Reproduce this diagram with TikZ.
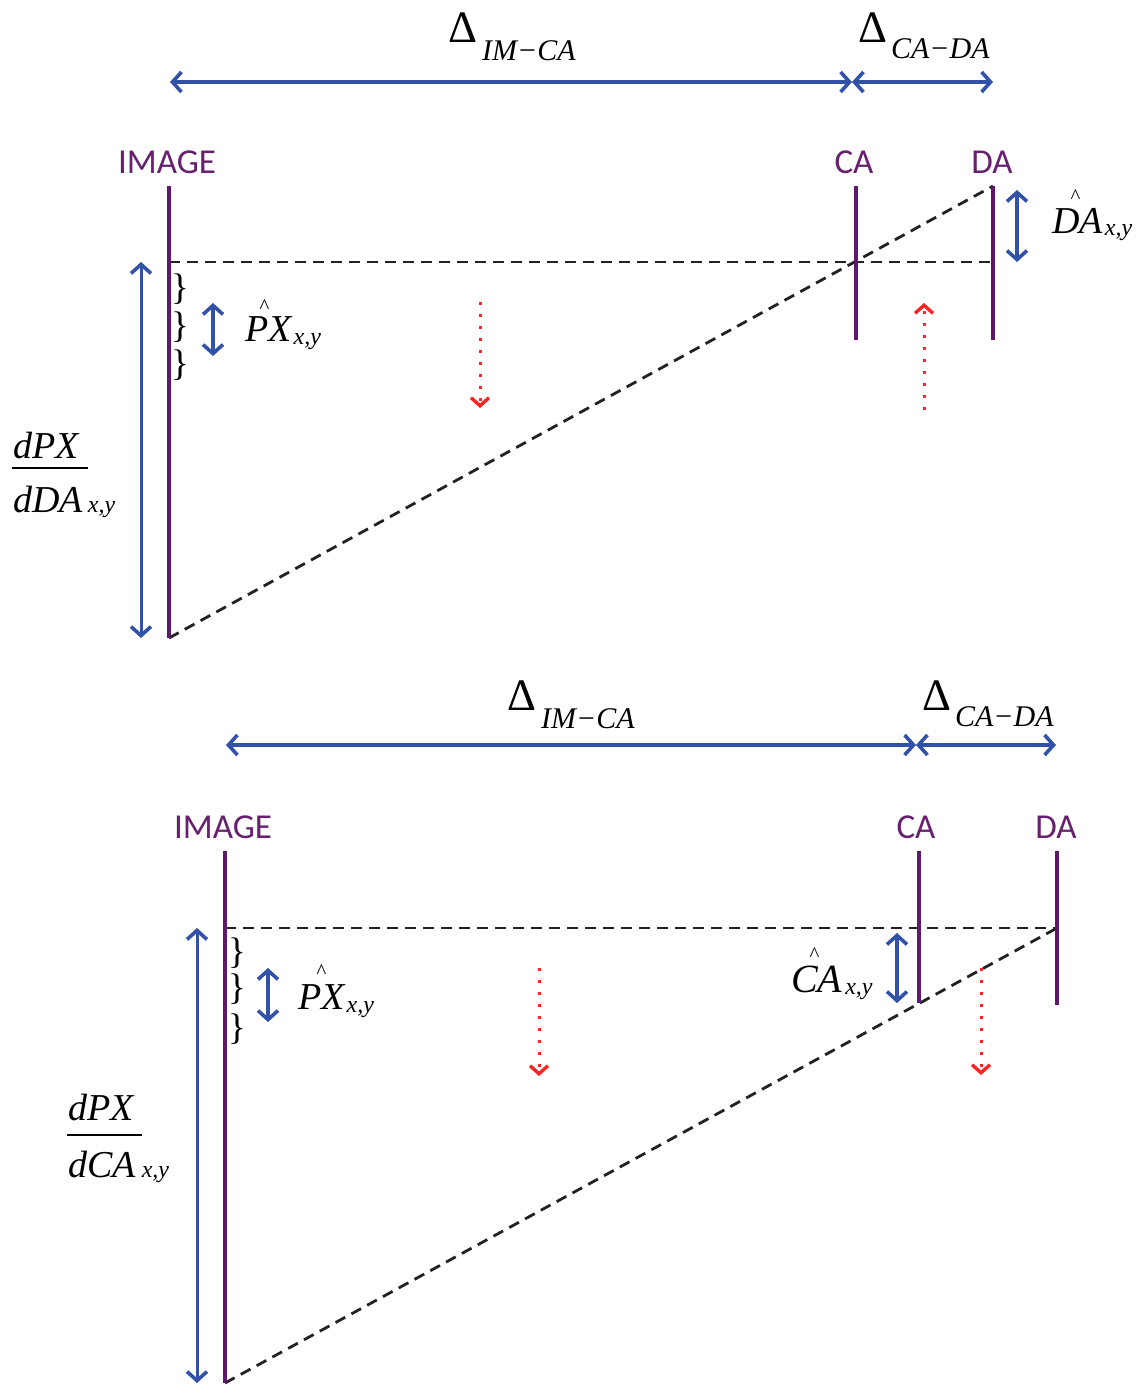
\documentclass[tikz,border=0pt]{standalone}
\usepackage{fontspec}
\setmainfont{Liberation Serif}
\newfontfamily\calib{Carlito}
\usetikzlibrary{arrows.meta}
\definecolor{purp}{HTML}{5E1A6A}
\definecolor{ptext}{HTML}{66206E}
\definecolor{blu}{HTML}{3152A8}
\definecolor{rd}{HTML}{FF2424}
\definecolor{dk}{HTML}{222222}
\newcommand\fs[1]{\fontsize{#1}{#1}\selectfont}
\newcommand\hatat[2]{\rlap{\kern#1\raisebox{#2}{\fs{21}\textasciicircum}}}
\begin{document}
\begin{tikzpicture}[x=1pt,y=-1pt,
  plate/.style={draw=purp, line width=4.5pt},
  guide/.style={draw=dk, line width=2.8pt, dash pattern=on 11pt off 7pt},
  meas/.style={draw=blu, line width=3.3pt, {Straight Barb[length=9pt,width=20pt,line width=3.6pt]}-{Straight Barb[length=9pt,width=20pt,line width=3.6pt]}},
  flow/.style={draw=rd, line width=3pt, dash pattern=on 3pt off 9pt, -{Straight Barb[length=8pt,width=18pt,line width=3.4pt]}},
  lbl/.style={inner sep=0pt, text=ptext, font=\calib\fs{35}, anchor=base},
  tx/.style={inner sep=0pt, anchor=base west},
  brc/.style={inner sep=0pt, anchor=base west, font=\fs{37}},
]
\useasboundingbox (0,0) rectangle (1147,1386);

% ================= TOP =================
\coordinate (imT) at (169,186); \coordinate (imB) at (169,638);
\coordinate (caT) at (856,186); \coordinate (caB) at (856,340);
\coordinate (daT) at (993,186); \coordinate (daB) at (993,340);
\coordinate (hL) at (169,262);  \coordinate (hR) at (993,262);
\coordinate (a1) at (170,82); \coordinate (a2) at (852,82); \coordinate (a3) at (993,82);
\coordinate (b1) at (141,262); \coordinate (b2) at (141,638);
\coordinate (s1) at (213,303); \coordinate (s2) at (213,356);
\coordinate (d1) at (1017,190); \coordinate (d2) at (1017,262);
\coordinate (r1) at (480,302); \coordinate (r2) at (480,408);
\coordinate (r3) at (924,410); \coordinate (r4) at (924,303);

\draw[guide] (hL) -- (hR);
\draw[guide] (imB) -- (daT);
\draw[plate] (imT) -- (imB);
\draw[plate] (caT) -- (caB);
\draw[plate] (daT) -- (daB);
\draw[meas] (a1) -- (a2);
\draw[meas] (a2) -- (a3);
\draw[meas, line width=3pt] (b1) -- (b2);
\draw[meas] (s1) -- (s2);
\draw[meas] (d1) -- (d2);
\draw[flow] (r1) -- (r2);
\draw[flow] (r3) -- (r4);

\node[lbl] (limg) at (167,173) {IMAGE};
\node[lbl] (lca) at (854,173) {CA};
\node[lbl] (lda) at (992,173) {DA};

\node[tx] (dl1) at (448,43) {{\fs{45}Δ}\kern5pt\raisebox{-18pt}{\fs{30}\itshape IM−CA}};
\node[tx] (dl2) at (858,43) {{\fs{45}Δ}\kern4pt\raisebox{-16pt}{\fs{30}\itshape CA−DA}};

\node[brc] (br1) at (171,299) {\}};
\node[brc] (br2) at (171,337) {\}};
\node[brc] (br3) at (171,375) {\}};

\node[tx] (px1) at (245,341) {\fs{38}\itshape\hatat{14pt}{28pt}PX\kern2pt\raisebox{-3pt}{\fs{24}x,y}};
\node[tx] (da1) at (1052,233) {\fs{38}\itshape\hatat{18pt}{30pt}DA\kern2pt\raisebox{-2pt}{\fs{24}x,y}};

\node[tx] (fn1) at (13,458) {\fs{38}\itshape dPX};
\coordinate (fb1a) at (12,468); \coordinate (fb1b) at (88,468);
\draw[line width=2pt] (fb1a) -- (fb1b);
\node[tx] (fd1) at (13,512) {\fs{38}\itshape dDA\kern5pt{\fs{24}x,y}};

% ================= BOTTOM =================
\coordinate (imT2) at (225,851); \coordinate (imB2) at (225,1383);
\coordinate (caT2) at (919,851); \coordinate (caB2) at (919,1003);
\coordinate (daT2) at (1057,851); \coordinate (daB2) at (1057,1005);
\coordinate (hL2) at (225,928); \coordinate (hR2) at (1057,928);
\coordinate (c1) at (226,745); \coordinate (c2) at (916,745); \coordinate (c3) at (1056,745);
\coordinate (e1) at (197,928); \coordinate (e2) at (197,1383);
\coordinate (t1) at (268,968); \coordinate (t2) at (268,1022);
\coordinate (g1) at (897,933); \coordinate (g2) at (897,1003);
\coordinate (q1) at (539,968); \coordinate (q2) at (539,1076);
\coordinate (q3) at (981,968); \coordinate (q4) at (981,1075);

\draw[guide] (hL2) -- (hR2);
\draw[guide] (imB2) -- (hR2);
\draw[plate] (imT2) -- (imB2);
\draw[plate] (caT2) -- (caB2);
\draw[plate] (daT2) -- (daB2);
\draw[meas] (c1) -- (c2);
\draw[meas] (c2) -- (c3);
\draw[meas, line width=3pt] (e1) -- (e2);
\draw[meas] (t1) -- (t2);
\draw[meas] (g1) -- (g2);
\draw[flow] (q1) -- (q2);
\draw[flow] (q3) -- (q4);

\node[lbl] (limg2) at (223,838) {IMAGE};
\node[lbl] (lca2) at (916,838) {CA};
\node[lbl] (lda2) at (1056,838) {DA};

\node[tx] (dl3) at (507,710) {{\fs{45}Δ}\kern5pt\raisebox{-18pt}{\fs{30}\itshape IM−CA}};
\node[tx] (dl4) at (922,710) {{\fs{45}Δ}\kern4pt\raisebox{-16pt}{\fs{30}\itshape CA−DA}};

\node[brc] (br4) at (228,963) {\}};
\node[brc] (br5) at (228,999) {\}};
\node[brc] (br6) at (228,1039) {\}};

\node[tx] (px2) at (298,1009) {\fs{38}\itshape\hatat{18pt}{31pt}PX\kern2pt\raisebox{-3pt}{\fs{24}x,y}};
\node[tx] (ca2) at (791,992) {\fs{40}\itshape\hatat{18pt}{31pt}CA\kern3pt\raisebox{-2pt}{\fs{24}x,y}};

\node[tx] (fn2) at (68,1120) {\fs{38}\itshape dPX};
\coordinate (fb2a) at (67,1135); \coordinate (fb2b) at (142,1135);
\draw[line width=2pt] (fb2a) -- (fb2b);
\node[tx] (fd2) at (68,1177) {\fs{38}\itshape dCA\kern6pt{\fs{24}x,y}};
\end{tikzpicture}
\end{document}
